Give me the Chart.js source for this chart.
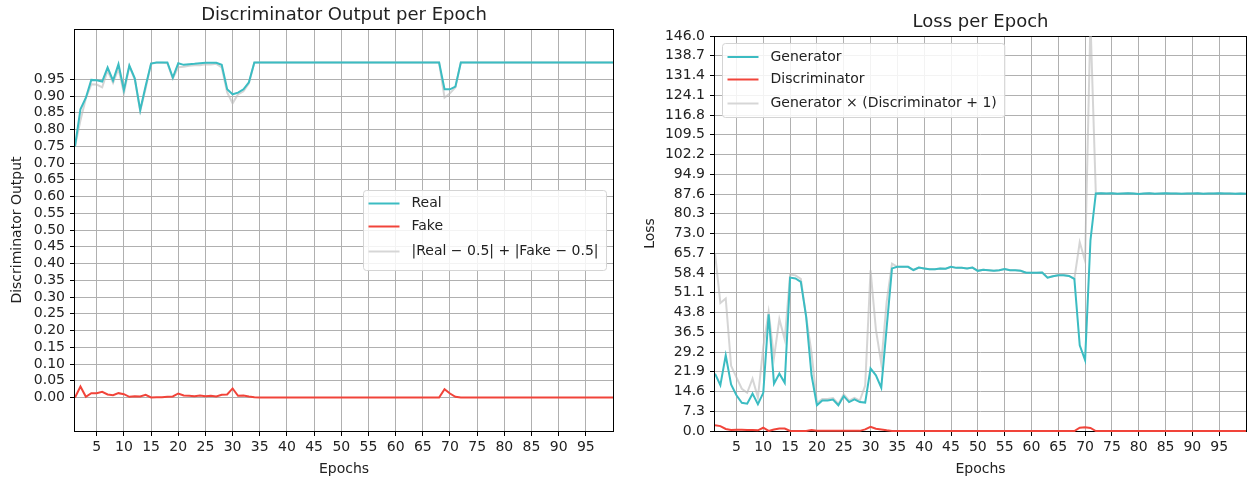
<!DOCTYPE html>
<html>
<head>
<meta charset="utf-8">
<script src="https://cdn.jsdelivr.net/npm/chart.js@4"></script>
<style>
  body { margin: 0; background: #fff; }
  #wrap { position: relative; width: 1247px; height: 481px; }
  canvas { position: absolute; top: 0; }
  #outputChart { left: 0; }
  #lossChart { left: 625px; }
</style>
</head>
<body>
<div id="wrap">
  <canvas id="outputChart" width="625" height="481"></canvas>
  <canvas id="lossChart" width="622" height="481"></canvas>
</div>
<script>
const epochs = Array.from({ length: 100 }, (_, i) => i + 1);

// discriminator output on real / fake samples
const realOutput = [
  0.75, 0.86, 0.895, 0.948, 0.947, 0.943, 0.985, 0.946, 0.995, 0.918,
  0.991, 0.953, 0.858, 0.93, 0.997, 1.0, 1.0, 1.0, 0.955, 0.998,
  0.993, 0.995, 0.996, 0.998, 0.999, 0.999, 0.999, 0.993, 0.92, 0.905,
  0.91, 0.92, 0.941, 1.0, 1.0, 1.0, 1.0, 1.0, 1.0, 1.0,
  1.0, 1.0, 1.0, 1.0, 1.0, 1.0, 1.0, 1.0, 1.0, 1.0,
  1.0, 1.0, 1.0, 1.0, 1.0, 1.0, 1.0, 1.0, 1.0, 1.0,
  1.0, 1.0, 1.0, 1.0, 1.0, 1.0, 1.0, 1.0, 0.92, 0.92,
  0.928, 1.0, 1.0, 1.0, 1.0, 1.0, 1.0, 1.0, 1.0, 1.0,
  1.0, 1.0, 1.0, 1.0, 1.0, 1.0, 1.0, 1.0, 1.0, 1.0,
  1.0, 1.0, 1.0, 1.0, 1.0, 1.0, 1.0, 1.0, 1.0, 1.0
];
const fakeOutput = [
  0.0, 0.033, 0.002, 0.013, 0.013, 0.017, 0.009, 0.007, 0.013, 0.01,
  0.002, 0.004, 0.003, 0.008, 0.0, 0.001, 0.001, 0.002, 0.003, 0.012,
  0.006, 0.005, 0.004, 0.006, 0.004, 0.005, 0.003, 0.008, 0.009, 0.027,
  0.005, 0.006, 0.003, 0.0005, 0.0, 0.0, 0.0, 0.0, 0.0, 0.0,
  0.0, 0.0, 0.0, 0.0, 0.0, 0.0, 0.0, 0.0, 0.0, 0.0,
  0.0, 0.0, 0.0, 0.0, 0.0, 0.0, 0.0, 0.0, 0.0, 0.0,
  0.0, 0.0, 0.0, 0.0, 0.0, 0.0, 0.0, 0.0, 0.025, 0.012,
  0.002, 0.0, 0.0, 0.0, 0.0, 0.0, 0.0, 0.0, 0.0, 0.0,
  0.0, 0.0, 0.0, 0.0, 0.0, 0.0, 0.0, 0.0, 0.0, 0.0,
  0.0, 0.0, 0.0, 0.0, 0.0, 0.0, 0.0, 0.0, 0.0, 0.0
];

// losses
const generatorLoss = [
  21.2, 16.9, 28.0, 17.2, 13.2, 10.4, 10.1, 13.8, 9.9, 14.1,
  43.1, 17.5, 21.2, 17.8, 56.7, 56.4, 55.1, 42.2, 20.6, 9.5,
  11.3, 11.3, 11.6, 9.5, 12.9, 10.7, 11.7, 10.7, 10.5, 23.1,
  20.6, 16.0, 38.1, 60.1, 60.7, 60.7, 60.7, 59.5, 60.4, 60.1,
  59.8, 59.8, 60.1, 60.0, 60.7, 60.3, 60.3, 60.1, 60.4, 59.2,
  59.6, 59.4, 59.2, 59.4, 59.9, 59.4, 59.4, 59.2, 58.5, 58.5,
  58.5, 58.6, 56.7, 57.2, 57.6, 57.6, 57.3, 56.2, 31.7, 26.2,
  70.5, 87.8, 87.9, 87.8, 87.9, 87.7, 87.8, 87.9, 87.8, 87.6,
  87.8, 87.9, 87.7, 87.8, 87.9, 87.8, 87.8, 87.7, 87.8, 87.8,
  87.9, 87.7, 87.8, 87.8, 87.9, 87.8, 87.8, 87.7, 87.8, 87.7
];
const discriminatorLoss = [
  2.1, 1.8, 0.75, 0.4, 0.5, 0.5, 0.4, 0.4, 0.25, 1.2,
  0.02, 0.55, 0.95, 0.9, 0.02, 0.02, 0.02, 0.0, 0.4, 0.1,
  0.05, 0.05, 0.05, 0.05, 0.05, 0.05, 0.05, 0.05, 0.6, 1.57,
  0.82, 0.56, 0.25, 0.03, 0.0, 0.0, 0.0, 0.0, 0.0, 0.0,
  0.0, 0.0, 0.0, 0.0, 0.0, 0.0, 0.0, 0.0, 0.0, 0.0,
  0.0, 0.0, 0.0, 0.0, 0.0, 0.0, 0.0, 0.0, 0.0, 0.0,
  0.0, 0.0, 0.0, 0.0, 0.0, 0.0, 0.0, 0.0, 1.2, 1.4,
  1.15, 0.0, 0.0, 0.0, 0.0, 0.0, 0.0, 0.0, 0.0, 0.0,
  0.0, 0.0, 0.0, 0.0, 0.0, 0.0, 0.0, 0.0, 0.0, 0.0,
  0.0, 0.0, 0.0, 0.0, 0.0, 0.0, 0.0, 0.0, 0.0, 0.0
];

// the grey curves are the quantities named in the legends
const outputGap = realOutput.map((r, i) => Math.abs(r - 0.5) + Math.abs(fakeOutput[i] - 0.5));
const weightedLoss = generatorLoss.map((g, i) => g * (discriminatorLoss[i] + 1));

const epochTicks = [5, 10, 15, 20, 25, 30, 35, 40, 45, 50, 55, 60, 65, 70, 75, 80, 85, 90, 95];
const outputTicks = [0, 0.05, 0.1, 0.15, 0.2, 0.25, 0.3, 0.35, 0.4, 0.45, 0.5, 0.55, 0.6, 0.65, 0.7, 0.75, 0.8, 0.85, 0.9, 0.95];
const lossTicks = [0.0, 7.3, 14.6, 21.9, 29.2, 36.5, 43.8, 51.1, 58.4, 65.7, 73.0, 80.3, 87.6, 94.9, 102.2, 109.5, 116.8, 124.1, 131.4, 138.7, 146.0];

const TEAL = "#3bbcc2";
const RED = "#f1443a";
const GREY = "rgba(185, 185, 185, 0.6)";
const GRID = "#b0b0b0";

Chart.defaults.font.family = '"DejaVu Sans", sans-serif';
Chart.defaults.font.size = 14;
Chart.defaults.color = "#222";

// spines on all four sides
const spines = {
  id: "spines",
  beforeDatasetsDraw(chart) {
    const { ctx, chartArea: a } = chart;
    ctx.save();
    ctx.strokeStyle = "#000";
    ctx.lineWidth = 1;
    ctx.strokeRect(Math.round(a.left) - 0.5, Math.round(a.top) + 0.5,
      Math.round(a.right) - Math.round(a.left) + 1, Math.round(a.bottom) - Math.round(a.top));
    ctx.restore();
  },
};

// title centred over the plot area
const plotTitle = {
  id: "plotTitle",
  afterDraw(chart, args, opts) {
    const { ctx, chartArea: a } = chart;
    ctx.save();
    ctx.font = '18px "DejaVu Sans", sans-serif';
    ctx.fillStyle = "#222";
    ctx.textAlign = "center";
    ctx.textBaseline = "middle";
    ctx.fillText(opts.text, (a.left + a.right) / 2, opts.y);
    ctx.restore();
  },
};

// matplotlib-like legend box inside the axes
const boxLegend = {
  id: "boxLegend",
  afterDraw(chart, args, opts) {
    const { ctx, chartArea: a } = chart;
    ctx.save();
    ctx.font = '14px "DejaVu Sans", sans-serif';
    const items = chart.data.datasets.map((ds) => ({ text: ds.label, color: ds.legendColor || ds.borderColor }));
    const textW = Math.max(...items.map((it) => ctx.measureText(it.text).width));
    const w = 48 + textW + 8;
    const h = opts.height;
    let x, y;
    if (opts.loc === "upper left") {
      x = a.left + 7;
      y = a.top + 7;
    } else {
      x = a.right - 7 - w;
      y = (a.top + a.bottom) / 2 - h / 2;
    }
    x = Math.round(x) + 0.5;
    y = Math.round(y) + 0.5;
    ctx.fillStyle = "rgba(255,255,255,0.85)";
    ctx.strokeStyle = "#d4d4d4";
    ctx.lineWidth = 1;
    ctx.beginPath();
    ctx.roundRect(x, y, w, h, 3);
    ctx.fill();
    ctx.stroke();
    items.forEach((it, i) => {
      const yy = y + opts.rows[i];
      ctx.strokeStyle = it.color;
      ctx.lineWidth = 2;
      ctx.beginPath();
      ctx.moveTo(x + 5, yy);
      ctx.lineTo(x + 36, yy);
      ctx.stroke();
      ctx.fillStyle = "#222";
      ctx.textBaseline = "middle";
      ctx.fillText(it.text, x + 48, yy);
    });
    ctx.restore();
  },
};

function epochAxis() {
  return {
    type: "linear",
    min: 1,
    max: 100,
    afterBuildTicks: (s) => { s.ticks = epochTicks.map((v) => ({ value: v })); },
    afterFit: (s) => { s.height = 50; },
    ticks: { autoSkip: false, maxRotation: 0, padding: 3 },
    grid: { color: GRID, lineWidth: 1, tickColor: "#000", tickLength: 5, tickWidth: 1 },
    border: { display: false },
    title: { display: true, text: "Epochs", padding: { top: 0, bottom: 3 } },
  };
}

function lineSet(label, data, color, order) {
  return {
    label: label,
    data: data,
    borderColor: color,
    borderWidth: 2,
    pointRadius: 0,
    tension: 0,
    fill: false,
    order: order,
    clip: { left: 0, top: 0, right: 0, bottom: 3 },
  };
}

new Chart(document.getElementById("outputChart"), {
  type: "line",
  data: {
    labels: epochs,
    datasets: [
      lineSet("Real", realOutput, TEAL, 1),
      lineSet("Fake", fakeOutput, RED, 1),
      Object.assign(lineSet("|Real \u2212 0.5| + |Fake \u2212 0.5|", outputGap, GREY, 2), { legendColor: "#d6d6d6" }),
    ],
  },
  options: {
    responsive: false,
    animation: false,
    layout: { padding: { left: 0, right: 12, top: 29, bottom: 0 } },
    plugins: {
      legend: { display: false },
      tooltip: { enabled: false },
      plotTitle: { text: "Discriminator Output per Epoch", y: 15 },
      boxLegend: { loc: "center right", height: 80, rows: [13, 36, 61] },
    },
    scales: {
      x: epochAxis(),
      y: {
        type: "linear",
        min: -0.1,
        max: 1.1,
        afterBuildTicks: (s) => { s.ticks = outputTicks.map((v) => ({ value: v })); },
        afterFit: (s) => { s.width = 75; },
        ticks: { autoSkip: false, padding: 5, callback: (v) => v.toFixed(2) },
        grid: { color: GRID, lineWidth: 1, tickColor: "#000", tickLength: 5, tickWidth: 1 },
        border: { display: false },
        title: { display: true, text: "Discriminator Output", padding: { top: 9, bottom: 0 } },
      },
    },
  },
  plugins: [spines, plotTitle, boxLegend],
});

new Chart(document.getElementById("lossChart"), {
  type: "line",
  data: {
    labels: epochs,
    datasets: [
      lineSet("Generator", generatorLoss, TEAL, 1),
      lineSet("Discriminator", discriminatorLoss, RED, 1),
      Object.assign(lineSet("Generator \u00d7 (Discriminator + 1)", weightedLoss, GREY, 2), { legendColor: "#d6d6d6" }),
    ],
  },
  options: {
    responsive: false,
    animation: false,
    layout: { padding: { left: 0, right: 1, top: 36, bottom: 0 } },
    plugins: {
      legend: { display: false },
      tooltip: { enabled: false },
      plotTitle: { text: "Loss per Epoch", y: 22 },
      boxLegend: { loc: "upper left", height: 74, rows: [13.5, 36, 60] },
    },
    scales: {
      x: epochAxis(),
      y: {
        type: "linear",
        min: 0,
        max: 146,
        afterBuildTicks: (s) => { s.ticks = lossTicks.map((v) => ({ value: v })); },
        afterFit: (s) => { s.width = 90; },
        ticks: { autoSkip: false, padding: 5, callback: (v) => v.toFixed(1) },
        grid: { color: GRID, lineWidth: 1, tickColor: "#000", tickLength: 5, tickWidth: 1 },
        border: { display: false },
        title: { display: true, text: "Loss", padding: { top: 17, bottom: 0 } },
      },
    },
  },
  plugins: [spines, plotTitle, boxLegend],
});
</script>
</body>
</html>
